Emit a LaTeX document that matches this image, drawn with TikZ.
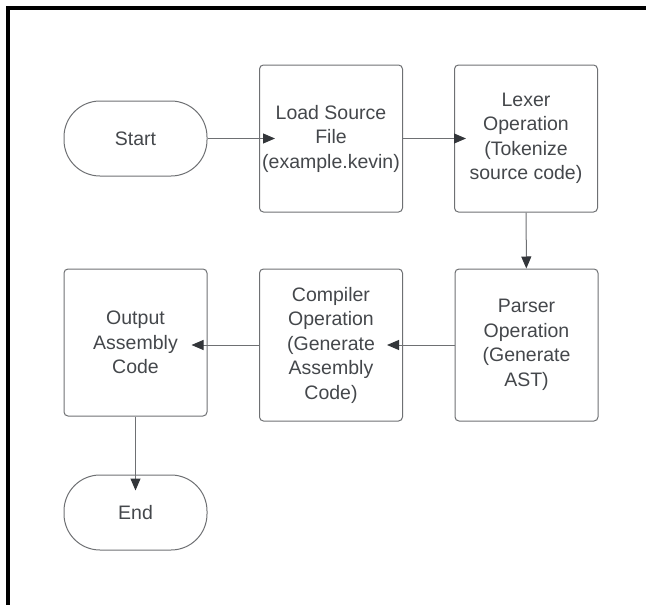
\documentclass[tikz,border=0pt]{standalone}
\usepackage{fontspec}
\setmainfont{Liberation Sans}
\usetikzlibrary{positioning, arrows.meta}

\definecolor{linegray}{HTML}{6E7073}
\definecolor{txtgray}{HTML}{44474B}
\definecolor{tipgray}{HTML}{33363A}

\tikzset{
	box/.style={draw=linegray, line width=1pt, rounded corners=4pt, inner sep=0pt,
		minimum width=143pt, minimum height=147pt, align=center, text=txtgray},
	term/.style={box, minimum height=75pt, rounded corners=36pt},
	flow/.style={draw=linegray, line width=1pt, shorten >=-16pt,
		-{Triangle[length=12pt, width=10pt, color=tipgray]}},
}

\begin{document}
\begin{tikzpicture}[x=1pt, y=-1pt, font=\fontsize{19.5}{24.5}\selectfont]
\useasboundingbox (0,0) rectangle (646,605);
% frame
\draw[line width=4pt] (7.5,605) -- (7.5,7.5) -- (646,7.5);

% top row
\node[term] (start) at (135.5,138.5) {Start};
\node[box] (load) at (331,138.5) {Load Source\\File\\(example.kevin)};
\node[box] (lexer) at (526,138.5) {Lexer\\Operation\\(Tokenize\\source code)};

% bottom row
\node[box, minimum height=152pt] (parser) at (526.5,345) {Parser\\Operation\\(Generate\\AST)};
\node[box, minimum height=152pt] (compiler) at (331,345) {Compiler\\Operation\\(Generate\\Assembly\\Code)};
\node[box] (output) at (135.5,342.5) {Output\\Assembly\\Code};
\node[term] (end) at (135.5,512.5) {End};

\draw[flow] (start) -- (load);
\draw[flow, shorten >=-12pt] (load) -- (lexer);
\draw[flow, shorten >=0pt] (lexer) -- (parser);
\draw[flow] (parser) -- (compiler);
\draw[flow] (compiler.west) -- (output.east |- compiler.west);
\draw[flow] (output) -- (end);
\end{tikzpicture}
\end{document}
